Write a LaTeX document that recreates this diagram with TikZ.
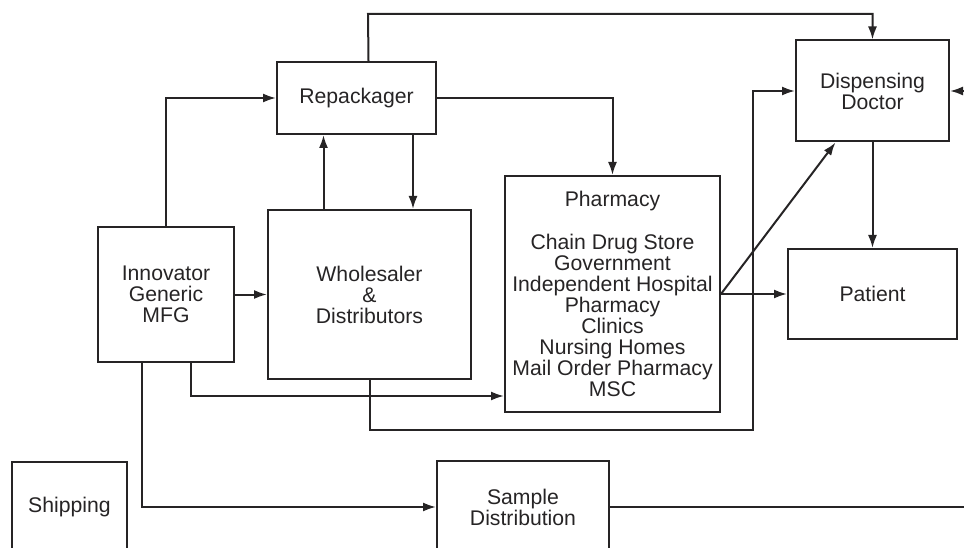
\documentclass[tikz,border=0pt]{standalone}
\usepackage{fontspec}
\setmainfont{Liberation Sans}
\usetikzlibrary{arrows.meta,positioning}
\definecolor{chainGray}{RGB}{38,36,37}

\begin{document}
\begin{tikzpicture}[
  x=1pt, y=-1pt,
  chainbox/.style={
    draw=chainGray,
    line width=2pt,
    inner sep=0pt,
    align=center,
    text=chainGray,
    font=\fontsize{21.2}{21}\selectfont
  },
  arrow/.style={-{Latex[length=13pt,width=9pt]},line width=2pt,chainGray},
  link/.style={line width=2pt,chainGray}
]
  \useasboundingbox (0,0) rectangle (964,548);
  \clip (0,0) rectangle (964,548);
  % boxes
  \node[chainbox,minimum width=136pt,minimum height=135pt] (innov) at (166,294.5) {Innovator\\Generic\\MFG};
  \node[chainbox,minimum width=203pt,minimum height=169pt] (whole) at (369.5,294.5) {Wholesaler\\\&\\Distributors};
  \node[chainbox,minimum width=159pt,minimum height=72pt] (repack) at (356.5,98) {Repackager};
  \node[chainbox,minimum width=215pt,minimum height=236pt] (pharm) at (612.5,294) {Pharmacy\\[22pt]Chain Drug Store\\Government\\Independent Hospital\\Pharmacy\\Clinics\\Nursing Homes\\Mail Order Pharmacy\\MSC};
  \node[chainbox,minimum width=153pt,minimum height=101pt] (doc) at (872.5,91) {Dispensing\\Doctor};
  \node[chainbox,minimum width=169pt,minimum height=90pt] (patient) at (872.5,294) {Patient};
  \node[chainbox,minimum width=115pt,minimum height=90pt] (ship) at (69.5,507) {Shipping};
  \node[chainbox,minimum width=172pt,minimum height=92pt] (sample) at (523,507) {Sample\\Distribution};
  % turning points
  \coordinate (topturn) at (368,14);
  \coordinate (wdturn) at (753,430);
  \coordinate (mfgturn) at (191,396);
  \coordinate (docin) at (964,91);
  \coordinate (sampleout) at (964,507);
  % connectors
  \draw[arrow] (innov.north) |- (repack.west);
  \draw[arrow] (innov.east) -- (whole.west);
  \draw[arrow] ([xshift=-46pt]whole.north) -- ([xshift=-46pt]whole.north |- repack.south);
  \draw[arrow] ([xshift=56.5pt]repack.south) -- ([xshift=56.5pt]repack.south |- whole.north);
  \draw[arrow] (repack.east) -| (pharm.north);
  \draw[arrow] ([xshift=12pt]repack.north) -- (topturn) -| (doc.north);
  \draw[arrow] (docin) -- (doc.east);
  \draw[arrow] (whole.south) |- (wdturn) |- (doc.west);
  \draw[arrow] ([xshift=25pt]innov.south) |- (pharm.west |- mfgturn);
  \draw[arrow] ([xshift=-24pt]innov.south) |- (sample.west);
  \draw[link] (sample.east) -- (sampleout);
  \draw[arrow] (doc.south) -- (patient.north);
  \draw[arrow] (pharm.east) -- (patient.west);
  \draw[arrow] (pharm.east) -- ([xshift=-37pt]doc.south);
\end{tikzpicture}
\end{document}
